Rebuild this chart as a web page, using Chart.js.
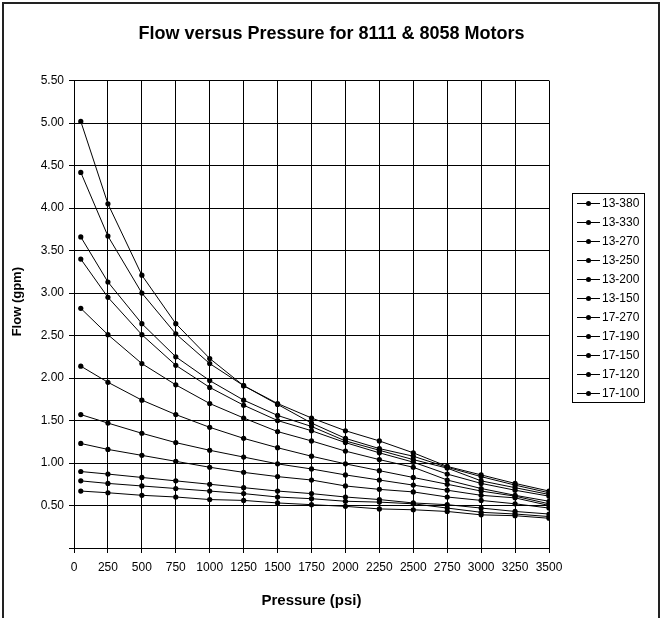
<!DOCTYPE html>
<html>
<head>
<meta charset="utf-8">
<script src="https://cdn.jsdelivr.net/npm/chart.js@4"></script>
<style>
  html, body { margin: 0; padding: 0; background: #fff; }
  #wrap { width: 663px; height: 618px; position: relative; }
</style>
</head>
<body>
<div id="wrap"><canvas id="flowChart" width="663" height="618"></canvas></div>
<script>
// pressure (psi) at each reading
const pressure = [50, 250, 500, 750, 1000, 1250, 1500, 1750, 2000, 2250, 2500, 2750, 3000, 3250, 3500];

// flow (gpm) for each motor
const flow13_380 = [5.02, 4.05, 3.21, 2.64, 2.23, 1.91, 1.70, 1.53, 1.38, 1.26, 1.12, 0.96, 0.86, 0.76, 0.67];
const flow13_330 = [4.42, 3.67, 3.00, 2.52, 2.17, 1.91, 1.69, 1.47, 1.29, 1.17, 1.08, 0.95, 0.84, 0.74, 0.65];
const flow13_270 = [3.66, 3.13, 2.64, 2.25, 1.97, 1.74, 1.56, 1.43, 1.26, 1.15, 1.04, 0.94, 0.79, 0.71, 0.63];
const flow13_250 = [3.40, 2.95, 2.51, 2.15, 1.89, 1.68, 1.50, 1.38, 1.24, 1.12, 1.01, 0.87, 0.76, 0.68, 0.61];
const flow13_200 = [2.82, 2.51, 2.17, 1.92, 1.70, 1.53, 1.37, 1.26, 1.14, 1.04, 0.95, 0.80, 0.70, 0.62, 0.55];
const flow13_150 = [2.14, 1.95, 1.74, 1.57, 1.42, 1.29, 1.18, 1.08, 0.99, 0.91, 0.83, 0.75, 0.67, 0.61, 0.52];
const flow17_270 = [1.57, 1.47, 1.35, 1.24, 1.15, 1.07, 0.99, 0.93, 0.86, 0.80, 0.74, 0.68, 0.62, 0.59, 0.50];
const flow17_190 = [1.23, 1.16, 1.09, 1.02, 0.95, 0.89, 0.84, 0.80, 0.73, 0.69, 0.66, 0.60, 0.56, 0.52, 0.47];
const flow17_150 = [0.90, 0.87, 0.83, 0.79, 0.75, 0.71, 0.67, 0.64, 0.60, 0.57, 0.53, 0.51, 0.47, 0.43, 0.40];
const flow17_120 = [0.79, 0.76, 0.73, 0.70, 0.67, 0.64, 0.60, 0.58, 0.55, 0.54, 0.52, 0.47, 0.42, 0.40, 0.37];
const flow17_100 = [0.67, 0.65, 0.62, 0.60, 0.57, 0.56, 0.53, 0.51, 0.49, 0.46, 0.45, 0.43, 0.39, 0.38, 0.35];

const motorNames = ["13-380", "13-330", "13-270", "13-250", "13-200", "13-150",
                    "17-270", "17-190", "17-150", "17-120", "17-100"];
const motorFlows = [flow13_380, flow13_330, flow13_270, flow13_250, flow13_200, flow13_150,
                    flow17_270, flow17_190, flow17_150, flow17_120, flow17_100];

const FONT = "'Liberation Sans', Arial, sans-serif";

// white page + outer frame
const frame = {
    id: 'frame',
    beforeDraw(chart) {
        const ctx = chart.ctx;
        ctx.save();
        ctx.fillStyle = '#fff';
        ctx.fillRect(0, 0, chart.width, chart.height);
        ctx.strokeStyle = '#222';
        ctx.lineWidth = 2;
        ctx.strokeRect(3, 3, 656, 640);
        ctx.restore();
    }
};

// boxed legend on the right, line + dot samples
const boxLegend = {
    id: 'boxLegend',
    afterDraw(chart) {
        const ctx = chart.ctx;
        const left = 572, top = 193, w = 72, h = 209;
        ctx.save();
        ctx.strokeStyle = '#000';
        ctx.lineWidth = 1;
        ctx.strokeRect(left + 0.5, top + 0.5, w, h);
        ctx.font = '12px ' + FONT;
        ctx.textBaseline = 'middle';
        ctx.fillStyle = '#000';
        chart.data.datasets.forEach((ds, i) => {
            const y = top + 10.5 + i * 19;
            ctx.beginPath();
            ctx.moveTo(577, y);
            ctx.lineTo(600, y);
            ctx.stroke();
            ctx.beginPath();
            ctx.arc(588.5, y, 2.5, 0, Math.PI * 2);
            ctx.fill();
            ctx.fillText(ds.label, 602, y + 0.5);
        });
        ctx.restore();
    }
};

const datasets = motorNames.map((name, i) => ({
    label: name,
    data: pressure.map((p, j) => ({ x: p, y: motorFlows[i][j] })),
    borderColor: '#000',
    backgroundColor: '#000',
    borderWidth: 1,
    pointRadius: 2.6,
    pointHoverRadius: 2.6,
    pointBorderWidth: 0,
    tension: 0,
    fill: false
}));

const ctx = document.getElementById('flowChart').getContext('2d');
new Chart(ctx, {
    type: 'line',
    data: { datasets: datasets },
    options: {
        responsive: false,
        animation: false,
        layout: { padding: 0 },
        plugins: {
            legend: { display: false },
            tooltip: { enabled: false },
            title: {
                display: true,
                text: 'Flow versus Pressure for 8111 & 8058 Motors',
                color: '#000',
                font: { family: FONT, size: 18, weight: 'bold', lineHeight: 1.2 },
                padding: { top: 23, bottom: 36 }
            }
        },
        scales: {
            x: {
                type: 'linear',
                min: 0,
                max: 3500,
                ticks: {
                    stepSize: 250,
                    color: '#000',
                    font: { family: FONT, size: 12 },
                    padding: 7,
                    maxRotation: 0,
                    autoSkip: false,
                    callback: v => String(v)
                },
                grid: { color: '#000', lineWidth: 1, tickLength: 5 },
                border: { color: '#000', width: 1 },
                title: {
                    display: true,
                    text: 'Pressure (psi)',
                    color: '#000',
                    font: { family: FONT, size: 15, weight: 'bold' },
                    padding: { bottom: 8 }
                },
                afterFit(scale) { scale.height = 70; }
            },
            y: {
                min: 0,
                max: 5.5,
                ticks: {
                    stepSize: 0.5,
                    color: '#000',
                    font: { family: FONT, size: 12 },
                    padding: 5,
                    callback: v => v === 0 ? '' : v.toFixed(2)
                },
                grid: { color: '#000', lineWidth: 1, tickLength: 5 },
                border: { color: '#000', width: 1 },
                title: {
                    display: true,
                    // leading spaces nudge the centred label up toward the reference spot
                    text: '       Flow (gpm)',
                    color: '#000',
                    font: { family: FONT, size: 13, weight: 'bold' },
                    padding: { top: 10 }
                },
                afterFit(scale) { scale.width = 74; }
            },
            spare: {
                position: 'right',
                display: true,
                ticks: { display: false },
                grid: { display: false },
                border: { display: false },
                afterFit(scale) { scale.width = 114; }
            }
        }
    },
    plugins: [frame, boxLegend]
});
</script>
</body>
</html>
